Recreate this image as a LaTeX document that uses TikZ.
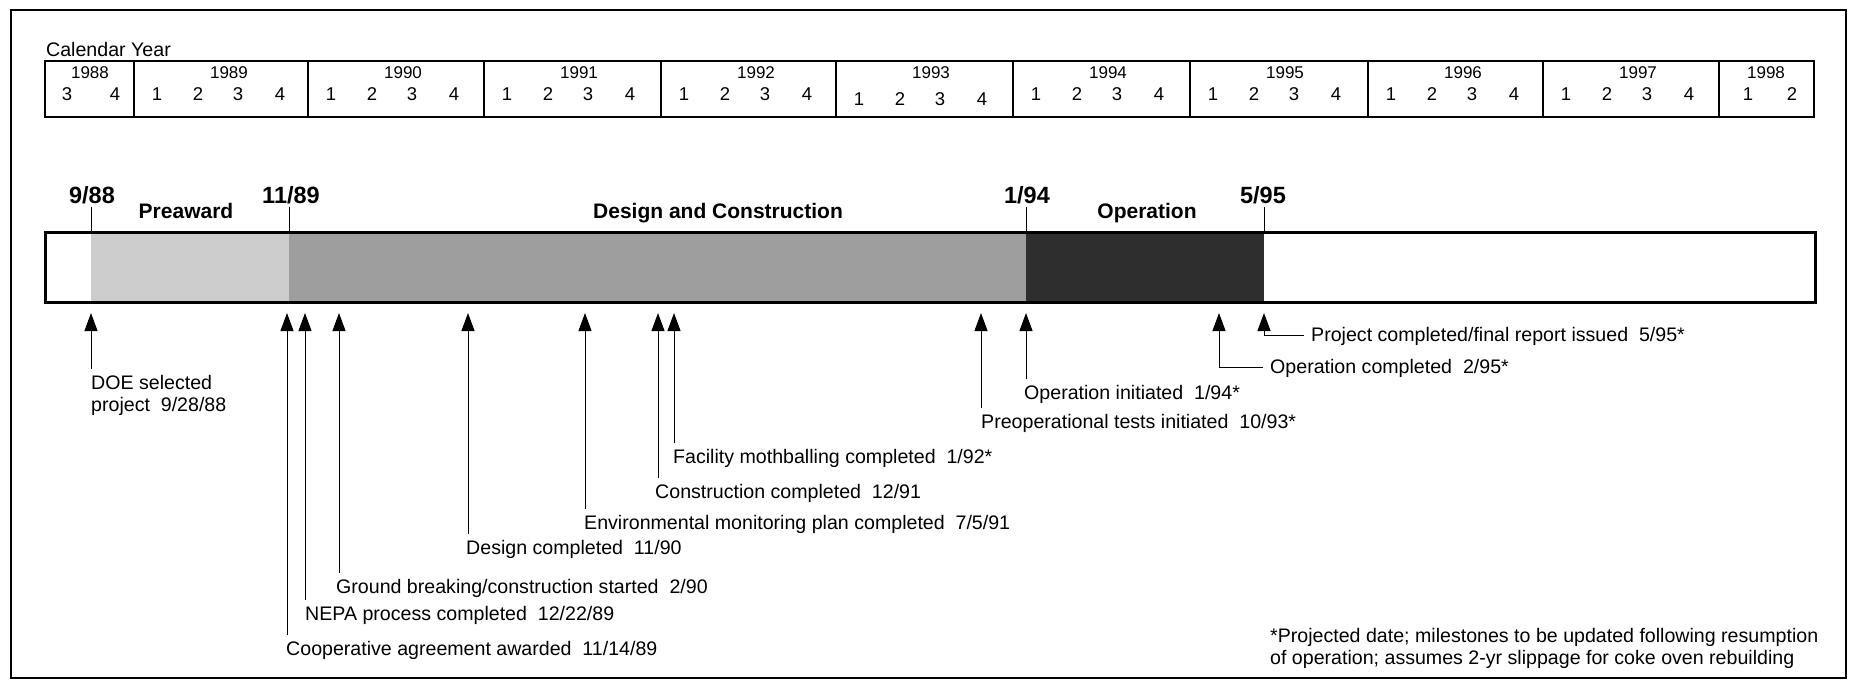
\documentclass[tikz,border=0pt]{standalone}
\usepackage{fontspec}
\setmainfont{Liberation Sans}
\usetikzlibrary{arrows.meta}
\definecolor{lightfill}{gray}{0.80}
\definecolor{midfill}{gray}{0.62}
\definecolor{darkfill}{gray}{0.18}
\begin{document}
\begin{tikzpicture}[x=1pt,y=-1pt,
  lbl/.style={anchor=base west, inner xsep=0pt, inner ysep=5.5pt,
    font=\fontsize{19.6}{22}\selectfont, text height=14.5pt, text depth=4pt},
  yearlbl/.style={inner sep=0pt, font=\fontsize{17}{19}\selectfont},
  qlbl/.style={inner sep=0pt, font=\fontsize{18.5}{20}\selectfont},
  datelbl/.style={anchor=base, inner sep=3pt, font=\fontsize{23.5}{26}\selectfont\bfseries},
  catlbl/.style={anchor=base, inner sep=0pt, font=\fontsize{21}{24}\selectfont\bfseries},
  arr/.style={-{Triangle[length=18pt,width=13pt]}, line width=1pt},
  tick/.style={line width=1pt},
  thinline/.style={line width=1.4pt},
  border/.style={line width=2.6pt}
]
\useasboundingbox (0,0) rectangle (1852,681);
\fill[white] (0,0) rectangle (1852,681);
% outer frame
\draw[line width=2.4pt] (11,10) rectangle (1846,678);

% calendar
\node[lbl, inner ysep=0pt] (cal) at (46,56) {Calendar Year};
\draw[border] (45,61) rectangle (1814,117);
\foreach \d in {134,308,484,661,836,1013,1190,1368,1543,1719}
  \draw[thinline] (\d,61) -- (\d,117);
\node[yearlbl] (yr1988) at (90,73) {1988};
\node[qlbl] (q1988-3) at (67,94) {3};
\node[qlbl] (q1988-4) at (115,94) {4};
\foreach \yr/\s/\dy in {1989/134/0,1990/308/0,1991/484/0,1992/661/0,1993/836/5,1994/1013/0,1995/1190/0,1996/1368/0,1997/1543/0}{
  \node[yearlbl] (yr\yr) at (\s+95,73) {\yr};
  \foreach \q/\o in {1/23,2/64,3/104,4/146}
    \node[qlbl] (q\yr-\q) at (\s+\o,94+\dy) {\q};
}
\node[yearlbl] (yr1998) at (1766,73) {1998};
\node[qlbl] (q1998-1) at (1748,94) {1};
\node[qlbl] (q1998-2) at (1792,94) {2};

% bar
\fill[lightfill] (91,232) rectangle (289,302);
\fill[midfill] (289,232) rectangle (1026,302);
\fill[darkfill] (1026,232) rectangle (1264,302);
\draw[line width=3pt] (45,232) rectangle (1815,302);

% date labels and ticks
\node[datelbl] (d1) at (92,203) {9/88};
\node[datelbl] (d2) at (291,203) {11/89};
\node[datelbl] (d3) at (1027,203) {1/94};
\node[datelbl] (d4) at (1263,203) {5/95};
\coordinate (k1) at (91,232);
\coordinate (k2) at (289,232);
\coordinate (k3) at (1026,232);
\coordinate (k4) at (1264,232);
\foreach \i in {1,2,3,4}
  \draw[tick] (d\i.south -| k\i) -- (k\i);

% phase labels
\node[catlbl] (pre) at (186,218) {Preaward};
\node[catlbl] (dac) at (718,218) {Design and Construction};
\node[catlbl] (ope) at (1147,218) {Operation};

% arrow tips
\coordinate (a1) at (91,313);
\coordinate (a2) at (287,313);
\coordinate (a3) at (305,313);
\coordinate (a4) at (339,313);
\coordinate (a5) at (468,313);
\coordinate (a6) at (585,313);
\coordinate (a7) at (658,313);
\coordinate (a8) at (674,313);
\coordinate (a9) at (981,313);
\coordinate (a10) at (1026,313);
\coordinate (a11) at (1219,313);
\coordinate (a12) at (1264,313);

% milestone labels
\node[lbl] (m1) at (91,389) {DOE selected};
\node[lbl] (m1b) at (91,411) {project\ \ 9/28/88};
\node[lbl] (m2) at (286,655) {Cooperative agreement awarded\ \ 11/14/89};
\node[lbl] (m3) at (305,620) {NEPA process completed\ \ 12/22/89};
\node[lbl] (m4) at (336,593) {Ground breaking/construction started\ \ 2/90};
\node[lbl] (m5) at (466,554) {Design completed\ \ 11/90};
\node[lbl] (m6) at (584,529) {Environmental monitoring plan completed\ \ 7/5/91};
\node[lbl] (m7) at (655,498) {Construction completed\ \ 12/91};
\node[lbl] (m8) at (673,463) {Facility mothballing completed\ \ 1/92*};
\node[lbl] (m9) at (981,428) {Preoperational tests initiated\ \ 10/93*};
\node[lbl] (m10) at (1024,399) {Operation initiated\ \ 1/94*};
\node[lbl] (m11) at (1270,373) {Operation completed\ \ 2/95*};
\node[lbl] (m12) at (1311,341) {Project completed/final report issued\ \ 5/95*};

\foreach \i in {1,2,3,4,5,6,7,8,9,10}
  \draw[arr] (m\i.north -| a\i) -- (a\i);
\draw[arr] ([xshift=-7pt]m11.west) -| (a11);
\draw[arr] ([xshift=-7pt]m12.west) -| (a12);

% footnote
\node[lbl, inner ysep=0pt] (fn1) at (1270,642) {*Projected date; milestones to be updated following resumption};
\node[lbl, inner ysep=0pt] (fn2) at (1270,664) {of operation; assumes 2-yr slippage for coke oven rebuilding};
\end{tikzpicture}
\end{document}
